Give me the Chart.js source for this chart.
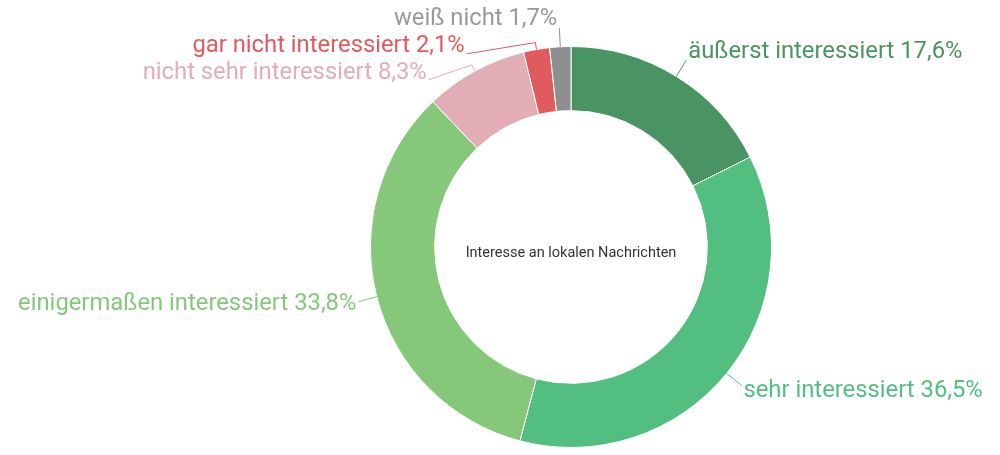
<!DOCTYPE html>
<html>
<head>
<meta charset="utf-8">
<script src="https://cdn.jsdelivr.net/npm/chart.js@4/dist/chart.umd.min.js"></script>
<style>
  html, body { margin: 0; padding: 0; background: #fff; }
  #wrap { width: 1000px; height: 455px; position: relative; }
</style>
</head>
<body>
<div id="wrap"><canvas id="donut"></canvas></div>
<script>
// Daten: Interesse an lokalen Nachrichten
const kategorien = ['äußerst interessiert', 'sehr interessiert', 'einigermaßen interessiert',
                    'nicht sehr interessiert', 'gar nicht interessiert', 'weiß nicht'];
const anteile = [17.6, 36.5, 33.8, 8.3, 2.1, 1.7];
const farben = ['#4a9463', '#52be80', '#85c87a', '#e2adb5', '#e05a5e', '#8f8f92'];
const textFarben = ['#4a9463', '#52be80', '#85c87a', '#e2adb5', '#e05a5e', '#999999'];
const titelMitte = 'Interesse an lokalen Nachrichten';

// Beschriftungen mit Verbindungslinien, grob wie bei Highcharts
const labelPlugin = {
    id: 'labels',
    afterDatasetsDraw(chart) {
        const ctx = chart.ctx;
        const meta = chart.getDatasetMeta(0);
        const arcs = meta.data;
        if (!arcs.length) return;
        const cx = arcs[0].x, cy = arcs[0].y;
        const r = arcs[0].outerRadius;
        const rl = r + 19;
        const abstand = 26;

        var links = [], rechts = [];
        arcs.forEach(function (arc, i) {
            var mid = (arc.startAngle + arc.endAngle) / 2;
            var item = {
                i: i,
                ax: cx + Math.cos(mid) * r, ay: cy + Math.sin(mid) * r,
                bx: cx + Math.cos(mid) * (r + 7), by: cy + Math.sin(mid) * (r + 7),
                y: cy + Math.sin(mid) * rl,
                links: Math.cos(mid) < 0
            };
            (item.links ? links : rechts).push(item);
        });

        // Kollisionen auflösen: oben begrenzen, dann nach unten schieben
        function verteilen(liste) {
            liste.sort(function (a, b) { return a.y - b.y; });
            var minY = cy - rl;
            liste.forEach(function (it) {
                if (it.y < minY) it.y = minY;
                minY = it.y + abstand;
            });
        }
        verteilen(links);
        verteilen(rechts);

        ctx.save();
        ctx.font = '23.8px Roboto';
        ctx.lineWidth = 1;
        links.concat(rechts).forEach(function (it) {
            var dy = it.y - cy;
            var dx = Math.sqrt(Math.max(0, rl * rl - dy * dy));
            var lx = it.links ? cx - dx : cx + dx;
            var cosPhi = -dy / rl;
            ctx.strokeStyle = farben[it.i];
            ctx.beginPath();
            ctx.moveTo(it.ax, it.ay);
            ctx.lineTo(it.bx, it.by);
            ctx.lineTo(lx, it.y);
            ctx.stroke();
            ctx.fillStyle = textFarben[it.i];
            ctx.textBaseline = 'middle';
            ctx.textAlign = it.links ? 'right' : 'left';
            var text = kategorien[it.i] + ' ' + anteile[it.i].toFixed(1).replace('.', ',') + '%';
            ctx.fillText(text, it.links ? lx - 2 : lx + 2, it.y - 9 * cosPhi);
        });

        // Titel in der Mitte
        ctx.font = '14.5px Roboto';
        ctx.fillStyle = '#333333';
        ctx.textAlign = 'center';
        ctx.textBaseline = 'middle';
        ctx.fillText(titelMitte, cx, cy + 6);
        ctx.restore();
    }
};

const data_donut = {
    labels: kategorien,
    datasets: [{
        data: anteile,
        backgroundColor: farben,
        borderColor: '#ffffff',
        borderWidth: 1
    }]
};

const config_donut = {
    type: 'doughnut',
    data: data_donut,
    options: {
        responsive: false,
        animation: false,
        cutout: '68%',
        layout: { padding: { top: 46, bottom: 7, left: 370, right: 228 } },
        plugins: {
            legend: { display: false },
            tooltip: { enabled: false }
        }
    },
    plugins: [labelPlugin]
};

const canvas = document.getElementById('donut');
canvas.width = 1000;
canvas.height = 455;
const grafico_donut = new Chart(canvas, config_donut);
</script>
</body>
</html>
